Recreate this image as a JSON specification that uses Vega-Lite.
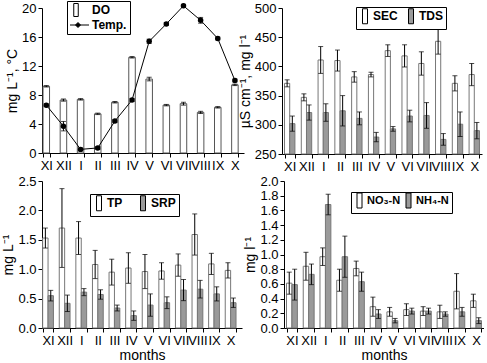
{
  "$schema": "https://vega.github.io/schema/vega-lite/v6.json",
  "padding": {"left": 1, "top": 0, "right": 0, "bottom": 0},
  "datasets": {
    "tl": [
      {"m": "XI", "s": "DO", "v": 9.2, "e": 0.1},
      {"m": "XII", "s": "DO", "v": 7.3, "e": 0.15},
      {"m": "I", "s": "DO", "v": 7.4, "e": 0.1},
      {"m": "II", "s": "DO", "v": 5.4, "e": 0.1},
      {"m": "III", "s": "DO", "v": 7.0, "e": 0.1},
      {"m": "IV", "s": "DO", "v": 13.2, "e": 0.1},
      {"m": "V", "s": "DO", "v": 10.2, "e": 0.25},
      {"m": "VI", "s": "DO", "v": 6.6, "e": 0.1},
      {"m": "VII", "s": "DO", "v": 6.8, "e": 0.2},
      {"m": "VIII", "s": "DO", "v": 5.6, "e": 0.15},
      {"m": "IX", "s": "DO", "v": 6.3, "e": 0.1},
      {"m": "X", "s": "DO", "v": 9.4, "e": 0.1},
      {"m": "XI", "s": "Temp.", "v": 6.6, "e": 0.2},
      {"m": "XII", "s": "Temp.", "v": 3.7, "e": 0.65},
      {"m": "I", "s": "Temp.", "v": 0.5, "e": 0.2},
      {"m": "II", "s": "Temp.", "v": 0.7, "e": 0.2},
      {"m": "III", "s": "Temp.", "v": 4.4, "e": 0.2},
      {"m": "IV", "s": "Temp.", "v": 7.3, "e": 0.2},
      {"m": "V", "s": "Temp.", "v": 15.4, "e": 0.3},
      {"m": "VI", "s": "Temp.", "v": 17.8, "e": 0.2},
      {"m": "VII", "s": "Temp.", "v": 20.3, "e": 0.2},
      {"m": "VIII", "s": "Temp.", "v": 18.3, "e": 0.4},
      {"m": "IX", "s": "Temp.", "v": 15.8, "e": 0.2},
      {"m": "X", "s": "Temp.", "v": 10.0, "e": 0.2}
    ],
    "tr": [
      {"m": "XI", "s": "SEC", "v": 371, "e": 6},
      {"m": "XII", "s": "SEC", "v": 347, "e": 6},
      {"m": "I", "s": "SEC", "v": 411, "e": 23},
      {"m": "II", "s": "SEC", "v": 410, "e": 18},
      {"m": "III", "s": "SEC", "v": 382, "e": 9},
      {"m": "IV", "s": "SEC", "v": 386, "e": 4},
      {"m": "V", "s": "SEC", "v": 427, "e": 10},
      {"m": "VI", "s": "SEC", "v": 418, "e": 19},
      {"m": "VII", "s": "SEC", "v": 405, "e": 20},
      {"m": "VIII", "s": "SEC", "v": 443, "e": 22},
      {"m": "IX", "s": "SEC", "v": 371, "e": 13},
      {"m": "X", "s": "SEC", "v": 386, "e": 19},
      {"m": "XI", "s": "TDS", "v": 302, "e": 13},
      {"m": "XII", "s": "TDS", "v": 321, "e": 13},
      {"m": "I", "s": "TDS", "v": 321, "e": 15},
      {"m": "II", "s": "TDS", "v": 324, "e": 26},
      {"m": "III", "s": "TDS", "v": 311, "e": 11},
      {"m": "IV", "s": "TDS", "v": 279, "e": 8},
      {"m": "V", "s": "TDS", "v": 293, "e": 4},
      {"m": "VI", "s": "TDS", "v": 315, "e": 10},
      {"m": "VII", "s": "TDS", "v": 316, "e": 22},
      {"m": "VIII", "s": "TDS", "v": 275, "e": 10},
      {"m": "IX", "s": "TDS", "v": 301, "e": 21},
      {"m": "X", "s": "TDS", "v": 290, "e": 14}
    ],
    "bl": [
      {"m": "XI", "s": "TP", "v": 1.53, "e": 0.17},
      {"m": "XII", "s": "TP", "v": 1.70, "e": 0.67},
      {"m": "I", "s": "TP", "v": 1.53, "e": 0.28},
      {"m": "II", "s": "TP", "v": 1.08, "e": 0.24},
      {"m": "III", "s": "TP", "v": 0.95, "e": 0.22},
      {"m": "IV", "s": "TP", "v": 1.02, "e": 0.26},
      {"m": "V", "s": "TP", "v": 0.96, "e": 0.29},
      {"m": "VI", "s": "TP", "v": 0.97, "e": 0.14},
      {"m": "VII", "s": "TP", "v": 1.07, "e": 0.19},
      {"m": "VIII", "s": "TP", "v": 1.59, "e": 0.35},
      {"m": "IX", "s": "TP", "v": 1.09, "e": 0.18},
      {"m": "X", "s": "TP", "v": 0.98, "e": 0.13},
      {"m": "XI", "s": "SRP", "v": 0.55, "e": 0.09},
      {"m": "XII", "s": "SRP", "v": 0.42, "e": 0.14},
      {"m": "I", "s": "SRP", "v": 0.61, "e": 0.06},
      {"m": "II", "s": "SRP", "v": 0.57, "e": 0.08},
      {"m": "III", "s": "SRP", "v": 0.34, "e": 0.05},
      {"m": "IV", "s": "SRP", "v": 0.21, "e": 0.08},
      {"m": "V", "s": "SRP", "v": 0.39, "e": 0.19},
      {"m": "VI", "s": "SRP", "v": 0.43, "e": 0.10},
      {"m": "VII", "s": "SRP", "v": 0.645, "e": 0.18},
      {"m": "VIII", "s": "SRP", "v": 0.66, "e": 0.15},
      {"m": "IX", "s": "SRP", "v": 0.58, "e": 0.12},
      {"m": "X", "s": "SRP", "v": 0.43, "e": 0.08}
    ],
    "br": [
      {"m": "XI", "s": "NO₃-N", "v": 0.61, "e": 0.15},
      {"m": "XII", "s": "NO₃-N", "v": 0.84, "e": 0.19},
      {"m": "I", "s": "NO₃-N", "v": 0.97, "e": 0.12},
      {"m": "II", "s": "NO₃-N", "v": 0.65, "e": 0.15},
      {"m": "III", "s": "NO₃-N", "v": 0.81, "e": 0.10},
      {"m": "IV", "s": "NO₃-N", "v": 0.29, "e": 0.13},
      {"m": "V", "s": "NO₃-N", "v": 0.22, "e": 0.06},
      {"m": "VI", "s": "NO₃-N", "v": 0.25, "e": 0.08},
      {"m": "VII", "s": "NO₃-N", "v": 0.23, "e": 0.06},
      {"m": "VIII", "s": "NO₃-N", "v": 0.22, "e": 0.09},
      {"m": "IX", "s": "NO₃-N", "v": 0.50, "e": 0.24},
      {"m": "X", "s": "NO₃-N", "v": 0.37, "e": 0.09},
      {"m": "XI", "s": "NH₄-N", "v": 0.59, "e": 0.21},
      {"m": "XII", "s": "NH₄-N", "v": 0.73, "e": 0.14},
      {"m": "I", "s": "NH₄-N", "v": 1.68, "e": 0.14},
      {"m": "II", "s": "NH₄-N", "v": 0.97, "e": 0.28},
      {"m": "III", "s": "NH₄-N", "v": 0.63, "e": 0.13},
      {"m": "IV", "s": "NH₄-N", "v": 0.19, "e": 0.06},
      {"m": "V", "s": "NH₄-N", "v": 0.10, "e": 0.03},
      {"m": "VI", "s": "NH₄-N", "v": 0.23, "e": 0.04},
      {"m": "VII", "s": "NH₄-N", "v": 0.23, "e": 0.04},
      {"m": "VIII", "s": "NH₄-N", "v": 0.19, "e": 0.03},
      {"m": "IX", "s": "NH₄-N", "v": 0.22, "e": 0.06},
      {"m": "X", "s": "NH₄-N", "v": 0.10, "e": 0.04}
    ]
  },
  "vconcat": [
    {
      "hconcat": [
        {
          "width": 202,
          "height": 145,
          "data": {"name": "tl"},
          "encoding": {
            "x": {"field": "m", "type": "nominal", "sort": ["XI","XII","I","II","III","IV","V","VI","VII","VIII","IX","X"], "scale": {"paddingInner": 0.62, "paddingOuter": 0.2, "align": 0.15}, "axis": {"title": null}},
            "y": {"field": "v", "type": "quantitative", "scale": {"domain": [0, 20], "nice": false}, "axis": {"title": "mg L⁻¹, °C", "values": [0, 4, 8, 12, 16, 20]}}
          },
          "layer": [
            {
              "transform": [{"filter": "datum.s === 'DO'"}],
              "mark": {"type": "bar", "stroke": "#555", "strokeWidth": 1},
              "encoding": {
                "fill": {"field": "s", "type": "nominal", "scale": {"domain": ["DO", "Temp."], "range": ["white", "black"]},
                  "legend": {"title": null, "orient": "none", "legendX": 25, "legendY": -7, "direction": "vertical", "symbolSize": 100, "labelOffset": 10, "rowPadding": 0, "padding": 3,
                    "encode": {"symbols": {"update": {"shape": {"signal": "datum.value === 'DO' ? 'M-0.45,-1.3H0.45V1.3H-0.45Z' : 'M-1.2,0H2.6M0.4,-0.5L0.9,0L0.4,0.5L-0.1,0Z'"}}}}}}
              }
            },
            {
              "transform": [{"filter": "datum.s === 'DO'"}],
              "mark": {"type": "errorbar", "ticks": {"size": 5, "color": "black"}, "rule": {"color": "black"}},
              "encoding": {"yError": {"field": "e"}}
            },
            {
              "transform": [{"filter": "datum.s === 'Temp.'"}],
              "mark": {"type": "line", "color": "black", "strokeWidth": 1}
            },
            {
              "transform": [{"filter": "datum.s === 'Temp.'"}],
              "mark": {"type": "errorbar", "ticks": {"size": 5, "color": "black"}, "rule": {"color": "black"}},
              "encoding": {"yError": {"field": "e"}}
            },
            {
              "transform": [{"filter": "datum.s === 'Temp.'"}],
              "mark": {"type": "point", "filled": true, "shape": "circle", "size": 30, "opacity": 1},
              "encoding": {
                "fill": {"field": "s", "type": "nominal", "scale": {"domain": ["DO", "Temp."], "range": ["white", "black"]},
                  "legend": {"title": null, "orient": "none", "legendX": 25, "legendY": -7, "direction": "vertical", "symbolSize": 100, "labelOffset": 10, "rowPadding": 0, "padding": 3,
                    "encode": {"symbols": {"update": {"shape": {"signal": "datum.value === 'DO' ? 'M-0.45,-1.3H0.45V1.3H-0.45Z' : 'M-1.2,0H2.6M0.4,-0.5L0.9,0L0.4,0.5L-0.1,0Z'"}}}}}}
              }
            }
          ]
        },
        {
          "width": 200,
          "height": 146,
          "data": {"name": "tr"},
          "encoding": {
            "x": {"field": "m", "type": "nominal", "sort": ["XI","XII","I","II","III","IV","V","VI","VII","VIII","IX","X"], "scale": {"paddingInner": 0.38, "paddingOuter": 0.15}, "axis": {"title": null}},
            "xOffset": {"field": "s", "type": "nominal", "sort": ["SEC", "TDS"]},
            "y": {"field": "v", "type": "quantitative", "scale": {"domain": [250, 500], "nice": false, "zero": false, "clamp": true}, "axis": {"title": "µS cm⁻¹, mg l⁻¹", "values": [250, 300, 350, 400, 450, 500]}}
          },
          "layer": [
            {
              "mark": {"type": "bar", "stroke": "#777", "strokeWidth": 1},
              "encoding": {
                "fill": {"field": "s", "type": "nominal", "scale": {"domain": ["SEC", "TDS"], "range": ["white", "#9a9a9a"]},
                  "legend": {"title": null, "orient": "none", "legendX": 74, "legendY": -1, "direction": "horizontal", "symbolType": "M-0.5,-1.5H0.5V1.5H-0.5Z", "symbolSize": 100, "labelOffset": 2, "columnPadding": 7, "padding": 3}}
              }
            },
            {
              "mark": {"type": "errorbar", "ticks": {"size": 5, "color": "black"}, "rule": {"color": "black"}},
              "encoding": {"yError": {"field": "e"}}
            }
          ]
        }
      ],
      "spacing": -6,
      "resolve": {"scale": {"fill": "independent", "xOffset": "independent", "x": "independent", "y": "independent"}, "legend": {"fill": "independent"}}
    },
    {
      "hconcat": [
        {
          "width": 200,
          "height": 147,
          "data": {"name": "bl"},
          "encoding": {
            "x": {"field": "m", "type": "nominal", "sort": ["XI","XII","I","II","III","IV","V","VI","VII","VIII","IX","X"], "scale": {"paddingInner": 0.35, "paddingOuter": 0.2, "align": 0.1}, "axis": {"title": "months"}},
            "xOffset": {"field": "s", "type": "nominal", "sort": ["TP", "SRP"]},
            "y": {"field": "v", "type": "quantitative", "scale": {"domain": [0, 2.5], "nice": false}, "axis": {"title": "mg L⁻¹", "values": [0, 0.5, 1, 1.5, 2, 2.5], "format": ".1f"}}
          },
          "layer": [
            {
              "mark": {"type": "bar", "stroke": "#777", "strokeWidth": 1},
              "encoding": {
                "fill": {"field": "s", "type": "nominal", "scale": {"domain": ["TP", "SRP"], "range": ["white", "#9a9a9a"]},
                  "legend": {"title": null, "orient": "none", "legendX": 48, "legendY": 13, "direction": "horizontal", "symbolType": "M-0.5,-1.5H0.5V1.5H-0.5Z", "symbolSize": 100, "labelOffset": 2, "columnPadding": 14, "padding": 3}}
              }
            },
            {
              "mark": {"type": "errorbar", "ticks": {"size": 5, "color": "black"}, "rule": {"color": "black"}},
              "encoding": {"yError": {"field": "e"}}
            }
          ]
        },
        {
          "width": 200,
          "height": 147,
          "data": {"name": "br"},
          "encoding": {
            "x": {"field": "m", "type": "nominal", "sort": ["XI","XII","I","II","III","IV","V","VI","VII","VIII","IX","X"], "scale": {"paddingInner": 0.35, "paddingOuter": 0.15}, "axis": {"title": "months"}},
            "xOffset": {"field": "s", "type": "nominal", "sort": ["NO₃-N", "NH₄-N"]},
            "y": {"field": "v", "type": "quantitative", "scale": {"domain": [0, 2], "nice": false}, "axis": {"title": "mg l⁻¹", "values": [0, 0.2, 0.4, 0.6, 0.8, 1, 1.2, 1.4, 1.6, 1.8, 2], "format": ".1f"}}
          },
          "layer": [
            {
              "mark": {"type": "bar", "stroke": "#777", "strokeWidth": 1},
              "encoding": {
                "fill": {"field": "s", "type": "nominal", "scale": {"domain": ["NO₃-N", "NH₄-N"], "range": ["white", "#9a9a9a"]},
                  "legend": {"title": null, "orient": "none", "legendX": 67, "legendY": 11, "direction": "horizontal", "symbolType": "M-0.5,-1.5H0.5V1.5H-0.5Z", "symbolSize": 100, "labelOffset": 2, "labelFontSize": 11, "columnPadding": 2, "padding": 3}}
              }
            },
            {
              "mark": {"type": "errorbar", "ticks": {"size": 5, "color": "black"}, "rule": {"color": "black"}},
              "encoding": {"yError": {"field": "e"}}
            }
          ]
        }
      ],
      "spacing": 1,
      "resolve": {"scale": {"fill": "independent", "xOffset": "independent", "x": "independent", "y": "independent"}, "legend": {"fill": "independent"}}
    }
  ],
  "spacing": 2,
  "resolve": {"scale": {"fill": "independent", "xOffset": "independent", "y": "independent", "x": "independent"}, "legend": {"fill": "independent"}},
  "config": {
    "font": "Liberation Sans",
    "view": {"stroke": null},
    "axis": {"grid": false, "domainColor": "black", "tickColor": "black", "labelColor": "black", "titleColor": "black", "labelFontSize": 13, "titleFontSize": 14, "titleFontWeight": "normal", "tickSize": 4, "labelPadding": 2},
    "axisX": {"labelAngle": 0, "tickBand": "extent", "labelOverlap": false, "titlePadding": 1},
    "axisY": {"titlePadding": 2},
    "legend": {"strokeColor": "black", "fillColor": "white", "labelFontWeight": "bold", "labelFontSize": 12, "labelColor": "black", "symbolStrokeColor": "black", "symbolStrokeWidth": 1, "symbolOpacity": 1}
  }
}
